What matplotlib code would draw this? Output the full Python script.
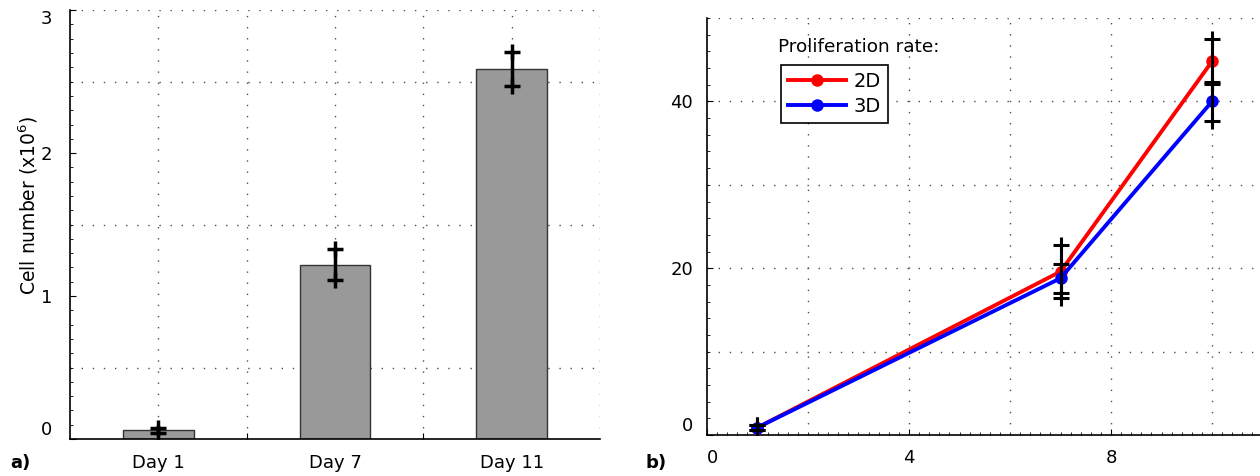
import matplotlib
matplotlib.use("Agg")
import matplotlib.pyplot as plt
from matplotlib.ticker import MultipleLocator

# ---- data ----
days = ["Day 1", "Day 7", "Day 11"]
cells = [0.06, 1.22, 2.59]
cells_err = [0.02, 0.11, 0.12]

t_days = [1, 7, 10]
rate_2d = [0.9, 19.6, 44.8]
err_2d = [0.3, 3.2, 2.7]
rate_3d = [0.9, 18.8, 40.0]
err_3d = [0.3, 1.75, 2.3]

plt.rcParams['font.family'] = ['DejaVu Sans']
grid_style = dict(color='0.3', linestyle=(0, (1, 7)), linewidth=1.0)

fig = plt.figure(figsize=(12.6, 4.76), dpi=100)

# ================= a) bar chart =================
ax1 = fig.add_axes([0.0556, 0.0777, 0.4206, 0.901])
pos = list(range(1, len(days) + 1))
ax1.bar(pos, cells, width=0.4, color='#999999', edgecolor='#333333', linewidth=1, zorder=2)
ax1.errorbar(pos, cells, yerr=cells_err, fmt='none', ecolor='k', elinewidth=2.5, capsize=0, zorder=3)
ax1.plot(pos, [c + e for c, e in zip(cells, cells_err)], '+', color='k', ms=12, mew=2.5, zorder=4)
ax1.plot(pos, [c - e for c, e in zip(cells, cells_err)], '+', color='k', ms=12, mew=2.5, zorder=4)

ax1.set_xlim(0.5, 3.5)
ax1.set_ylim(0, 3)
ax1.set_xticks([1.5, 2.5])
ax1.set_xticklabels([])
ax1.set_xticks(pos, minor=True)
ax1.set_xticklabels(days, minor=True, fontsize=13)
ax1.tick_params(axis='x', which='minor', length=0, pad=11)
ax1.tick_params(axis='x', which='major', direction='in', length=4)
ax1.set_yticks([0, 1, 2, 3])
ax1.yaxis.set_minor_locator(MultipleLocator(0.1))
ax1.tick_params(axis='y', which='major', direction='in', length=4, labelsize=13, pad=13)
ax1.tick_params(axis='y', which='minor', direction='in', length=2)
labs = ax1.get_yticklabels()
labs[0].set_va('bottom')
labs[-1].set_va('top')

for v in [0.5, 1.5, 2.5, 3]:
    ax1.axhline(v, zorder=0, **grid_style)
for v in [1, 1.5, 2, 2.5, 3, 3.5]:
    ax1.axvline(v, zorder=0, **grid_style)

for s in ['top', 'right']:
    ax1.spines[s].set_visible(False)
ax1.spines['left'].set_linewidth(1.2)
ax1.spines['bottom'].set_linewidth(1.2)
ax1.set_ylabel(r"Cell number (x10$^6$)", fontsize=13.5)
ax1.yaxis.set_label_coords(-0.057, 0.545)

fig.text(0.008, 0.016, "a)", fontsize=13, fontweight='bold')

# ================= b) line chart =================
ax2 = fig.add_axes([0.5611, 0.0861, 0.4409, 0.876])
ax2.plot(t_days, rate_2d, '-o', color='#ff0000', lw=2.8, ms=8, label='2D', zorder=3)
ax2.plot(t_days, rate_3d, '-o', color='#0000ff', lw=2.8, ms=8, label='3D', zorder=3)
for vals, errs in [(rate_2d, err_2d), (rate_3d, err_3d)]:
    ax2.errorbar(t_days, vals, yerr=errs, fmt='none', ecolor='k', elinewidth=2.2, capsize=0, zorder=4)
    ax2.plot(t_days, [v + e for v, e in zip(vals, errs)], '+', color='k', ms=11, mew=2.2, zorder=5)
    ax2.plot(t_days, [v - e for v, e in zip(vals, errs)], '+', color='k', ms=11, mew=2.2, zorder=5)

ax2.set_xlim(0, 11)
ax2.set_ylim(0, 50)
ax2.set_xticks([0, 4, 8])
ax2.set_yticks([0, 20, 40])
ax2.xaxis.set_minor_locator(MultipleLocator(0.2))
ax2.yaxis.set_minor_locator(MultipleLocator(2))
ax2.tick_params(axis='both', which='major', direction='in', length=4, labelsize=13)
ax2.tick_params(axis='x', which='major', pad=10)
ax2.tick_params(axis='y', which='major', pad=10)
ax2.tick_params(axis='both', which='minor', direction='in', length=2)
ax2.get_yticklabels()[0].set_va('bottom')
ax2.get_xticklabels()[0].set_ha('left')

for v in [10, 20, 30, 40, 50]:
    ax2.axhline(v, zorder=0, **grid_style)
for v in [2, 4, 6, 8, 10]:
    ax2.axvline(v, zorder=0, **grid_style)

for s in ['top', 'right']:
    ax2.spines[s].set_visible(False)
ax2.spines['left'].set_linewidth(1.2)
ax2.spines['bottom'].set_linewidth(1.2)

ax2.text(0.128, 0.93, "Proliferation rate:", transform=ax2.transAxes, fontsize=13.3, va='center', ha='left')
leg = ax2.legend(loc='upper left', bbox_to_anchor=(0.133, 0.887), fontsize=14, handlelength=3.0,
                 fancybox=False, framealpha=1, edgecolor='k', borderpad=0.35, labelspacing=0.32,
                 handletextpad=0.4, borderaxespad=0)
leg.get_frame().set_linewidth(1.2)

fig.text(0.512, 0.016, "b)", fontsize=13, fontweight='bold')

fig.savefig("out.png", dpi=100)
